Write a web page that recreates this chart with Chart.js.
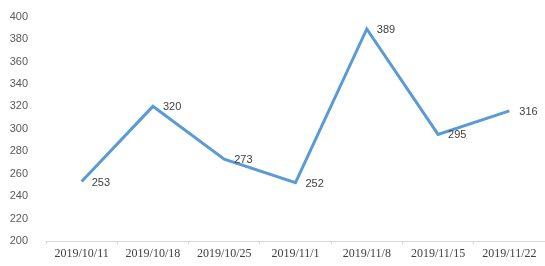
<!DOCTYPE html>
<html>
<head>
<meta charset="utf-8">
<script src="https://cdn.jsdelivr.net/npm/chart.js@4"></script>
<style>
  html, body { margin: 0; padding: 0; background: #fff; }
  #wrap { width: 545px; height: 266px; position: relative; }
</style>
</head>
<body>
<div id="wrap"><canvas id="c"></canvas></div>
<script>
const categories = ['2019/10/11', '2019/10/18', '2019/10/25', '2019/11/1', '2019/11/8', '2019/11/15', '2019/11/22'];
const values = [253, 320, 273, 252, 389, 295, 316];
const yMin = 200;
const yMax = 400;
const yStep = 20;

const labelPlugin = {
  id: 'pointLabels',
  afterDatasetsDraw(chart) {
    const ctx = chart.ctx;
    const meta = chart.getDatasetMeta(0);
    ctx.save();
    ctx.font = '11px "Liberation Sans", Arial, sans-serif';
    ctx.fillStyle = '#404040';
    ctx.textAlign = 'left';
    ctx.textBaseline = 'middle';
    meta.data.forEach((pt, i) => {
      ctx.fillText(String(values[i]), pt.x + 10, pt.y + 1);
    });
    ctx.restore();
  }
};

new Chart(document.getElementById('c'), {
  type: 'line',
  data: {
    labels: categories,
    datasets: [{
      data: values,
      borderColor: '#5B9BD5',
      borderWidth: 3,
      tension: 0,
      pointRadius: 0,
      borderJoinStyle: 'miter',
      fill: false
    }]
  },
  options: {
    responsive: true,
    maintainAspectRatio: false,
    animation: false,
    layout: { padding: { top: 13, right: -3, left: 0, bottom: 0 } },
    plugins: { legend: { display: false }, tooltip: { enabled: false } },
    scales: {
      x: {
        offset: true,
        grid: { display: true, drawOnChartArea: false, drawTicks: true, tickLength: 3, offset: true, color: '#D9D9D9' },
        border: { display: true, color: '#D9D9D9', width: 1 },
        ticks: {
          color: '#404040',
          font: { family: '"Liberation Serif", serif', size: 12 },
          padding: 3,
          maxRotation: 0,
          autoSkip: false
        },
        afterFit(scale) { scale.height = 25; }
      },
      y: {
        min: yMin,
        max: yMax,
        grid: { display: false },
        border: { display: false },
        ticks: {
          stepSize: yStep,
          color: '#595959',
          font: { family: '"Liberation Sans", Arial, sans-serif', size: 11 },
          padding: 10
        },
        afterFit(scale) { scale.width = 46; }
      }
    }
  },
  plugins: [labelPlugin]
});
</script>
</body>
</html>
